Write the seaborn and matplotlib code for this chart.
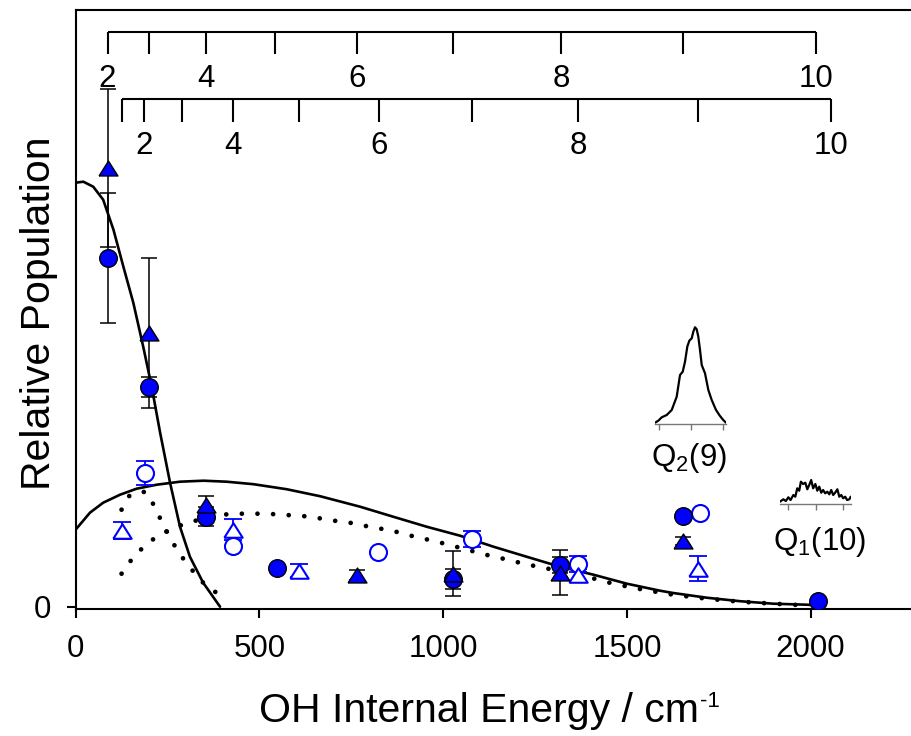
import matplotlib
matplotlib.use("Agg")
import matplotlib.pyplot as plt
import seaborn as sns
import numpy as np
import pandas as pd

# ---------------- data ----------------
# Filled symbols: assigned to the upper J scale
fc_E   = [87, 200, 355, 547, 1028, 1318, 1653, 2021]
fc_P   = [3.49, 2.20, 0.90, 0.39, 0.28, 0.42, 0.91, 0.06]
fc_err = [0.65, 0.10, 0.095, 0.0, 0.10, 0.08, 0.0, 0.0]

ft_E   = [87, 200, 355, 767, 1028, 1318, 1653]
ft_P   = [4.39, 2.74, 1.02, 0.32, 0.33, 0.34, 0.66]
ft_err = [0.79, 0.75, 0.09, 0.05, 0.225, 0.225, 0.04]

# Open symbols: assigned to the lower J scale
oc_E   = [189, 427, 823, 1079, 1368, 1699]
oc_P   = [1.34, 0.61, 0.55, 0.68, 0.43, 0.94]
oc_err = [0.12, 0.0, 0.0, 0.08, 0.08, 0.0]

ot_E   = [125, 427, 609, 1368, 1694]
ot_P   = [0.76, 0.77, 0.36, 0.32, 0.38]
ot_err = [0.083, 0.106, 0.065, 0.06, 0.128]

# Model curves
steep_E = [0, 21, 48, 75, 103, 130, 157, 184, 207, 230, 257, 284, 311, 347, 393]
steep_P = [4.24, 4.25, 4.20, 4.07, 3.77, 3.40, 3.04, 2.60, 2.20, 1.74, 1.24, 0.80, 0.50, 0.24, 0.00]

broad_E = [0, 39, 75, 121, 166, 221, 284, 348, 411, 484, 574, 665, 774, 864, 955,
           1046, 1137, 1227, 1318, 1409, 1500, 1590, 1626, 1717, 1808, 1898, 1989, 2010]
broad_P = [0.77, 0.94, 1.04, 1.12, 1.18, 1.22, 1.25, 1.26, 1.25, 1.225, 1.175, 1.105, 1.00, 0.90, 0.80,
           0.71, 0.60, 0.50, 0.40, 0.32, 0.23, 0.16, 0.137, 0.09, 0.055, 0.03, 0.02, 0.015]

dotA_E = [125, 148, 189, 216, 234, 257, 279, 309, 347, 390]
dotA_P = [0.97, 1.12, 1.15, 1.00, 0.85, 0.69, 0.55, 0.40, 0.24, 0.12]

dotB_E = [125, 154, 193, 234, 275, 316, 357, 398, 438, 479, 520, 561, 602, 642, 683, 724, 765,
          808, 851, 892, 933, 973, 1014, 1055, 1096, 1137, 1177, 1218, 1259, 1391, 1463, 1545,
          1626, 1717, 1808, 1898, 1989]
dotB_P = [0.33, 0.48, 0.63, 0.73, 0.80, 0.85, 0.89, 0.92, 0.93, 0.93, 0.93, 0.92, 0.91, 0.90, 0.87,
          0.85, 0.83, 0.79, 0.77, 0.73, 0.69, 0.66, 0.62, 0.58, 0.54, 0.50, 0.47, 0.43, 0.40, 0.30,
          0.23, 0.17, 0.12, 0.08, 0.05, 0.03, 0.013]

# Rotational (J) scales along the top
upper_J = [2, 3, 4, 5, 6, 7, 8, 9, 10]
upper_E = [87, 200, 355, 543, 766, 1026, 1321, 1653, 2015]
lower_J = [1, 2, 3, 4, 5, 6, 7, 8, 9, 10]
lower_E = [125, 186, 289, 427, 607, 825, 1078, 1367, 1694, 2055]
scale_labels = [2, 4, 6, 8, 10]

x_ticks = [0, 500, 1000, 1500, 2000]
y_ticks = [0]

# Inset spectra
q2_x = [-1.109, -1.006, -0.90, -0.745, -0.59, -0.435, -0.332, -0.248, -0.177, -0.106, -0.043,
        0.031, 0.081, 0.134, 0.186, 0.236, 0.289, 0.342, 0.444, 0.547, 0.652, 0.786, 0.91, 1.01, 1.096]
q2_y = [0.013, 0.033, 0.067, 0.09, 0.14, 0.273, 0.49, 0.523, 0.623, 0.773, 0.833,
        0.857, 0.923, 0.967, 0.947, 0.873, 0.74, 0.59, 0.507, 0.34, 0.24, 0.14, 0.08, 0.04, 0.013]
q1_x = [-1.28, -1.16, -1.07, -0.98, -0.90, -0.80, -0.73, -0.66, -0.59, -0.53, -0.45, -0.37, -0.30,
        -0.23, -0.16, -0.09, -0.01, 0.06, 0.13, 0.20, 0.27, 0.34, 0.42, 0.49, 0.56, 0.63, 0.70,
        0.78, 0.85, 0.92, 0.99, 1.06, 1.13, 1.21, 1.26]
q1_y = [0.023, 0.047, 0.03, 0.067, 0.04, 0.09, 0.073, 0.157, 0.133, 0.223, 0.20, 0.213, 0.147,
        0.19, 0.24, 0.157, 0.20, 0.133, 0.173, 0.113, 0.14, 0.107, 0.123, 0.097, 0.14, 0.09, 0.113,
        0.147, 0.073, 0.09, 0.057, 0.073, 0.04, 0.047, 0.073]
inset_ticks = [-1, 0, 1]

# ---------------- style ----------------
sns.set_theme(style="ticks")
plt.rcParams["font.family"] = ["Liberation Sans", "DejaVu Sans"]
plt.rcParams["text.color"] = "black"
plt.rcParams["mathtext.fontset"] = "custom"
plt.rcParams["mathtext.rm"] = "Liberation Sans"
plt.rcParams["mathtext.it"] = "Liberation Sans"
plt.rcParams["mathtext.default"] = "regular"

W, H = 911, 736
fig = plt.figure(figsize=(W / 100, H / 100), dpi=100)
fig.patch.set_facecolor("white")


def px_axes(l, t, r, b):
    return fig.add_axes([l / W, 1 - b / H, (r - l) / W, (b - t) / H])


ax = px_axes(75.6, 10, 920.9, 609.3)
ax.set_xlim(0, 2300)
ax.set_ylim(-0.026, 5.967)
ax.set_facecolor("white")

BLUE = "#0000FF"
tri = [(-1, -0.79), (1, -0.79), (0, 0.79), (-1, -0.79)]

# curves
sns.lineplot(x=steep_E, y=steep_P, ax=ax, color="black", lw=1.9, sort=False,
             estimator=None, zorder=1)
sns.lineplot(x=broad_E, y=broad_P, ax=ax, color="black", lw=1.9, sort=False,
             estimator=None, zorder=1)
for xe, ye in [(dotA_E, dotA_P), (dotB_E, dotB_P)]:
    sns.lineplot(x=xe, y=ye, ax=ax, color="black", lw=3.4, sort=False, estimator=None,
                 linestyle=(0, (0.01, 3.3)), dash_capstyle="round", zorder=1)

# error bars
ax.errorbar(ft_E, ft_P, yerr=ft_err, fmt="none", ecolor="black", elinewidth=1.1,
            capsize=6, capthick=1.1, zorder=2)
ax.errorbar(fc_E, fc_P, yerr=fc_err, fmt="none", ecolor="black", elinewidth=1.1,
            capsize=6, capthick=1.1, zorder=2)
ax.errorbar(oc_E, oc_P, yerr=oc_err, fmt="none", ecolor=BLUE, elinewidth=1.3,
            capsize=6.5, capthick=1.3, zorder=2)
ax.errorbar(ot_E, ot_P, yerr=ot_err, fmt="none", ecolor=BLUE, elinewidth=1.3,
            capsize=6.5, capthick=1.3, zorder=2)

# markers
sns.scatterplot(x=oc_E, y=oc_P, ax=ax, marker="o", s=150, facecolor="white",
                edgecolor=BLUE, linewidth=1.5, zorder=3)
sns.scatterplot(x=ot_E, y=ot_P, ax=ax, marker=tri, s=175, facecolor="white",
                edgecolor=BLUE, linewidth=1.5, zorder=3)
sns.scatterplot(x=fc_E, y=fc_P, ax=ax, marker="o", s=160, facecolor=BLUE,
                edgecolor="black", linewidth=1.0, zorder=4)
sns.scatterplot(x=ft_E, y=ft_P, ax=ax, marker=tri, s=185, facecolor=BLUE,
                edgecolor="black", linewidth=1.0, zorder=5)

# J scales on top
trans = ax.get_xaxis_transform()
for Es, Js, yline, ytick, ylab in [(upper_E, upper_J, 0.9633, 0.9266, 0.871),
                                   (lower_E, lower_J, 0.852, 0.8136, 0.7597)]:
    ax.plot([Es[0], Es[-1]], [yline, yline], transform=trans, color="black", lw=1.5,
            solid_capstyle="butt", clip_on=False)
    ax.vlines(Es, ytick, yline, transform=trans, colors="black", lw=1.5)
    for J, E in zip(Js, Es):
        if J in scale_labels:
            ax.text(E, ylab, str(J), transform=trans, ha="center", va="baseline",
                    fontsize=22.5, color="black")

# axes styling
ax.set_xticks(x_ticks)
ax.set_yticks(y_ticks)
ax.tick_params(direction="out", length=6.5, width=1.5, labelsize=22.5, pad=11,
               colors="black")
for sp in ax.spines.values():
    sp.set_linewidth(1.5)
    sp.set_color("black")
ax.set_xlabel("OH Internal Energy / cm", fontsize=29.5, color="black")
ax.xaxis.set_label_coords((259.3 - 75.6) / 845.3, -0.188)
ax.xaxis.label.set_horizontalalignment("left")
ax.xaxis.label.set_verticalalignment("baseline")
ax.set_ylabel("Relative Population", fontsize=29.5, color="black")
ax.yaxis.set_label_coords(-0.03, 0.494)
ax.yaxis.label.set_verticalalignment("baseline")

# insets
def inset(l, t, r, b, xs, ys, xlim, ylim):
    a = px_axes(l, t, r, b)
    a.set_facecolor("none")
    sns.lineplot(x=xs, y=ys, ax=a, color="black", lw=1.6, sort=False, estimator=None)
    a.set_xlim(*xlim)
    a.set_ylim(*ylim)
    for k in ["left", "right", "top"]:
        a.spines[k].set_visible(False)
    a.spines["bottom"].set_color("#777777")
    a.spines["bottom"].set_linewidth(1.0)
    a.set_xticks(inset_ticks)
    a.set_yticks([])
    a.tick_params(axis="x", direction="out", length=4.5, width=1.0, colors="#777777",
                  labelbottom=False)
    a.set_xlabel("")
    a.set_ylabel("")
    return a

inset(655, 324, 726, 424, q2_x, q2_y, (-1.109, 1.096), (0, 1.0))
inset(780, 474, 851, 504, q1_x, q1_y, (-1.28, 1.27), (0, 0.3))
fig.text(689 / W, 1 - 466 / H, r"Q$_2$(9)", ha="center", va="baseline", fontsize=22.5,
         color="black")
fig.text(820 / W, 1 - 550 / H, r"Q$_1$(10)", ha="center", va="baseline", fontsize=22.5,
         color="black")

# superscript "-1" (ASCII hyphen as in the reference) right after the x label
fig.canvas.draw()
bb = ax.xaxis.label.get_window_extent(renderer=fig.canvas.get_renderer())
fig.text((bb.x1 + 1) / W, (736 - 707) / H, "-1", ha="left", va="baseline",
         fontsize=16, color="black")

fig.savefig("out.png", dpi=100, facecolor="white")
